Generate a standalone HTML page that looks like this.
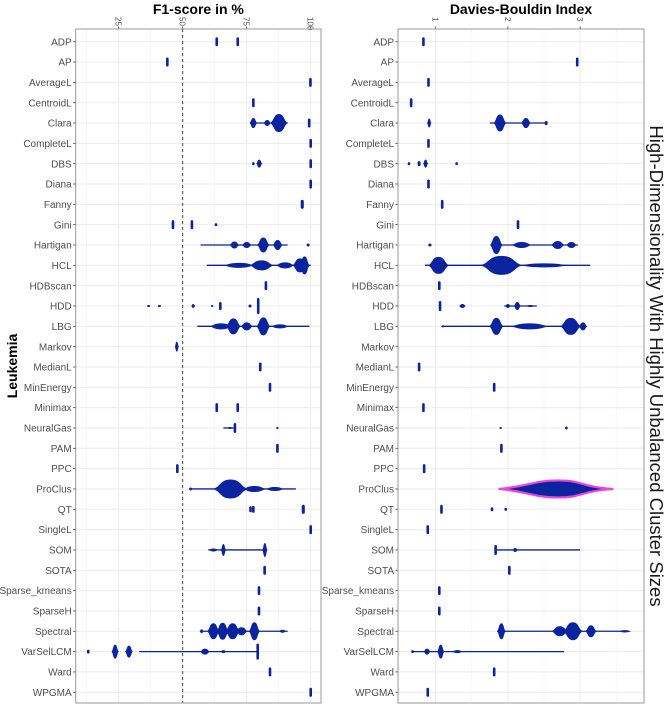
<!DOCTYPE html>
<html><head><meta charset="utf-8"><style>
body{margin:0;background:#fff;font-family:"Liberation Sans",sans-serif}
svg text{font-family:"Liberation Sans",sans-serif}
</style></head><body>
<svg id="chart" width="669" height="709" xmlns="http://www.w3.org/2000/svg"></svg>
<script>
const methods=["ADP","AP","AverageL","CentroidL","Clara","CompleteL","DBS","Diana","Fanny","Gini","Hartigan","HCL","HDBscan","HDD","LBG","Markov","MedianL","MinEnergy","Minimax","NeuralGas","PAM","PPC","ProClus","QT","SingleL","SOM","SOTA","Sparse_kmeans","SparseH","Spectral","VarSelLCM","Ward","WPGMA"];
const f1Ticks=[25,50,75,100];
const dbTicks=[1,2,3];
// blobs: [center value, half-spread (value units), half-height density]
const f1Blobs={
ADP:[[63.3,0.5,4.5],[71.5,0.5,4.5]],AP:[[44,0.5,4.5]],AverageL:[[99.9,0.5,4.5]],CentroidL:[[77.6,0.5,4.5]],
Clara:[[77.6,1.5,5],[87.6,3.5,9],[83,1.5,3],[99.4,0.5,4.5]],CompleteL:[[100,0.5,4.5]],
DBS:[[77.6,0.4,1.5],[79.9,1.2,4],[100,0.5,4.5]],Diana:[[100,0.5,4.5]],Fanny:[[96.7,0.6,4.5]],
Gini:[[46.2,0.5,4.5],[53.6,0.5,4.5],[63,0.4,1.5]],
Hartigan:[[70.2,2,3.5],[75,2,3],[81.5,2.5,7.5],[87.1,2,5],[99,0.6,1.5]],
HCL:[[72,7,2.5],[80.8,5,5],[90,4,3],[95.8,3,7],[97.6,2,9]],HDBscan:[[82.5,0.5,4.5]],
HDD:[[36.7,0.6,1],[40.9,0.6,1],[54.1,0.8,2],[61.5,0.5,1],[64.7,0.5,4],[76.3,0.6,1.5],[79.5,0.4,8]],
LBG:[[65,5,3],[69.8,3,8],[75,2.5,4],[81.5,2.8,9],[88,4,2]],Markov:[[47.7,0.8,5]],
MedianL:[[80.3,0.5,4.5]],MinEnergy:[[84.1,0.5,4.5]],Minimax:[[63.3,0.5,4.5],[71.5,0.5,4.5]],
NeuralGas:[[68.5,1,1],[70.4,0.5,5],[87,0.2,1]],PAM:[[87,0.5,4.5]],PPC:[[47.9,0.5,4.5]],
ProClus:[[53.1,0.8,1.5],[68.7,7,9.5],[78,5,3],[86,4,2]],
QT:[[76.5,0.5,3],[77.6,0.5,3.5],[97.1,0.6,4.5]],SingleL:[[100,0.5,4.5]],
SOM:[[62,2,1.5],[65.9,1,6],[82.1,1,7]],SOTA:[[82,0.5,4.5]],Sparse_kmeans:[[79.8,0.5,4.5]],SparseH:[[79.8,0.5,4.5]],
Spectral:[[57.4,0.8,2],[62,2.5,8],[65.6,2.5,8.5],[69.5,3,8],[73,2.5,4],[78,2.2,9],[89,1.5,1.5]],
VarSelLCM:[[13.1,0.5,2],[23.6,1.4,7],[29,1.5,6],[58.7,2,3],[65.9,1.2,1.5],[79.3,0.5,8]],
Ward:[[84.1,0.5,4.5]],WPGMA:[[100,0.5,4.5]]};
const f1Lines={Clara:[76.3,91],Hartigan:[57,91],HCL:[59.4,100],LBG:[55.7,99.5],NeuralGas:[65.9,70.4],ProClus:[53.1,94.2],SOM:[60,82.5],Spectral:[57.4,91],VarSelLCM:[33,79.3]};
const dbBlobs={
ADP:[[0.83,0.015,4.5]],AP:[[2.96,0.015,4.5]],AverageL:[[0.90,0.015,4.5]],CentroidL:[[0.66,0.015,4.5]],
Clara:[[0.91,0.03,4.5],[1.89,0.09,8.5],[2.25,0.07,5],[2.53,0.02,2]],CompleteL:[[0.90,0.015,4.5]],
DBS:[[0.63,0.015,1.5],[0.77,0.02,2.5],[0.86,0.035,4],[1.29,0.015,1.5]],Diana:[[0.90,0.015,4.5]],Fanny:[[1.09,0.015,4.5]],Gini:[[2.14,0.015,4.5]],
Hartigan:[[0.92,0.03,1.5],[1.84,0.09,9],[2.19,0.15,3],[2.69,0.1,4],[2.88,0.08,3]],
HCL:[[1.04,0.15,8.5],[1.91,0.3,9.5],[2.5,0.4,2]],HDBscan:[[1.05,0.015,4.5]],
HDD:[[1.06,0.012,5],[1.37,0.05,2],[2.13,0.05,4],[2.0,0.04,2],[2.31,0.06,1]],
LBG:[[1.1,0.03,1],[1.84,0.1,8.5],[2.3,0.3,3],[2.87,0.15,8.5],[3.04,0.06,4]],
MedianL:[[0.77,0.015,4.5]],MinEnergy:[[1.81,0.015,4.5]],Minimax:[[0.83,0.015,4.5]],
NeuralGas:[[1.9,0.01,1],[2.81,0.01,1.5]],PAM:[[1.91,0.015,4.5]],PPC:[[0.84,0.015,4.5]],
ProClus:[[2.7,0.8,8.5]],QT:[[1.08,0.015,4.5],[1.78,0.015,2],[1.97,0.015,1.5]],SingleL:[[0.89,0.015,4.5]],
SOM:[[1.83,0.012,5],[2.1,0.025,2]],SOTA:[[2.02,0.015,4.5]],Sparse_kmeans:[[1.05,0.015,4.5]],SparseH:[[1.05,0.015,4.5]],
Spectral:[[1.91,0.06,8],[2.9,0.14,9],[2.72,0.12,5],[3.15,0.08,6],[3.62,0.1,1.2]],
VarSelLCM:[[0.68,0.015,1.5],[0.88,0.05,3],[1.07,0.05,7],[1.3,0.08,1.5]],
Ward:[[1.81,0.015,4.5]],WPGMA:[[0.89,0.015,4.5]]};
const dbLines={Clara:[1.75,2.53],Hartigan:[1.78,2.97],HCL:[0.85,3.14],HDD:[1.95,2.4],LBG:[1.1,3.04],SOM:[1.83,3.0],Spectral:[1.85,3.62],VarSelLCM:[0.68,2.78]};

const NS="http://www.w3.org/2000/svg";const svg=document.getElementById('chart');
function el(t,a,p){const e=document.createElementNS(NS,t);for(const k in a)e.setAttribute(k,a[k]);(p||svg).appendChild(e);return e;}
const top0=29,bot0=703;
const yRow=i=>41.7+i*20.33;
const panels=[
 {L:75.7,R:321,x:v=>182.7+(v-50)*2.56,ticks:f1Ticks,minor:[12.5,37.5,62.5,87.5],blobs:f1Blobs,lines:f1Lines,title:"F1-score in %",name:"f1"},
 {L:398,R:644,x:v=>435.7+(v-1)*72.2,ticks:dbTicks,minor:[1.5,2.5,3.5],blobs:dbBlobs,lines:dbLines,title:"Davies-Bouldin Index",name:"db"}];
panels.forEach(p=>{
 const g=el('g',{});
 el('rect',{x:p.L,y:top0,width:p.R-p.L,height:bot0-top0,fill:'#fff'},g);
 p.minor.forEach(v=>el('line',{x1:p.x(v),x2:p.x(v),y1:top0,y2:bot0,stroke:'#f2f2f2','stroke-width':0.6},g));
 p.ticks.forEach(v=>el('line',{x1:p.x(v),x2:p.x(v),y1:top0,y2:bot0,stroke:'#ebebeb','stroke-width':1},g));
 methods.forEach((m,i)=>{el('line',{x1:p.L,x2:p.R,y1:yRow(i),y2:yRow(i),stroke:'#ebebeb','stroke-width':1},g);
  const t=el('text',{x:p.L-4,y:yRow(i)+3.6,'text-anchor':'end','font-size':10,fill:'#4d4d4d'},g);t.textContent=m;
  
  el('line',{x1:p.L-2.5,x2:p.L,y1:yRow(i),y2:yRow(i),stroke:'#333','stroke-width':0.8},g);});
 p.ticks.forEach(v=>{el('line',{x1:p.x(v),x2:p.x(v),y1:top0-2.5,y2:top0,stroke:'#333','stroke-width':0.8},g);
  const t=el('text',{x:0,y:0,'font-size':8,fill:'#4d4d4d','text-anchor':'start',transform:`translate(${p.x(v)-3},${top0-12}) rotate(90)`},g);
  t.textContent=v;});
 if(p.name==='f1'){const d=el('line',{x1:p.x(50),x2:p.x(50),y1:top0,y2:bot0,stroke:'#333','stroke-width':0.9,'stroke-dasharray':'3,3'},g);
  }
 methods.forEach((m,i)=>{const y=yRow(i);
  if(p.lines[m]){const l=el('line',{x1:p.x(p.lines[m][0]),x2:p.x(p.lines[m][1]),y1:y,y2:y,stroke:'#0a239e','stroke-width':1.3},g);
   }
  (p.blobs[m]||[]).forEach(b=>{const cx=p.x(b[0]),rx=Math.max(1.3,p.x(b[0]+b[1])-cx);
   let e;
   if(m==='ProClus'&&p.name==='db'){
    const x0=p.x(1.87),x1=p.x(3.46),h=b[2];
    e=el('path',{d:`M${x0},${y} C${x0+30},${y-h*0.3} ${cx-25},${y-h} ${cx},${y-h} C${cx+25},${y-h} ${x1-35},${y-h*0.3} ${x1},${y} C${x1-35},${y+h*0.3} ${cx+25},${y+h} ${cx},${y+h} C${cx-25},${y+h} ${x0+30},${y+h*0.3} ${x0},${y}Z`,fill:'#0a239e',stroke:'#ee44dd','stroke-width':2.2},g);
   } else if(rx<=2) e=el('rect',{x:cx-rx,y:y-b[2],width:2*rx,height:2*b[2],rx:rx,fill:'#0a239e'},g);
   else { const h=b[2];
    e=el('path',{d:`M${cx-rx},${y} C${cx-rx*0.55},${y-h*0.2} ${cx-rx*0.6},${y-h} ${cx},${y-h} C${cx+rx*0.6},${y-h} ${cx+rx*0.55},${y-h*0.2} ${cx+rx},${y} C${cx+rx*0.55},${y+h*0.2} ${cx+rx*0.6},${y+h} ${cx},${y+h} C${cx-rx*0.6},${y+h} ${cx-rx*0.55},${y+h*0.2} ${cx-rx},${y}Z`,fill:'#0a239e'},g);}
   });
 });
 el('rect',{x:p.L,y:top0,width:p.R-p.L,height:bot0-top0,fill:'none',stroke:'#999','stroke-width':1},g);
 const tt=el('text',{x:(p.L+p.R)/2,y:14,'text-anchor':'middle','font-size':14,'font-weight':'bold',fill:'#000'},g);
 tt.textContent=p.title;
});
const lk=el('text',{x:0,y:0,'text-anchor':'middle','font-size':14,'font-weight':'bold',fill:'#000',transform:'translate(17,366) rotate(-90)'});
lk.textContent='Leukemia';
const st=el('text',{x:0,y:0,'text-anchor':'middle','font-size':18.5,fill:'#1a1a1a',transform:'translate(650,366) rotate(90)'});
st.textContent='High-Dimensionality With Highly Unbalanced Cluster Sizes';
</script>
</body></html>
